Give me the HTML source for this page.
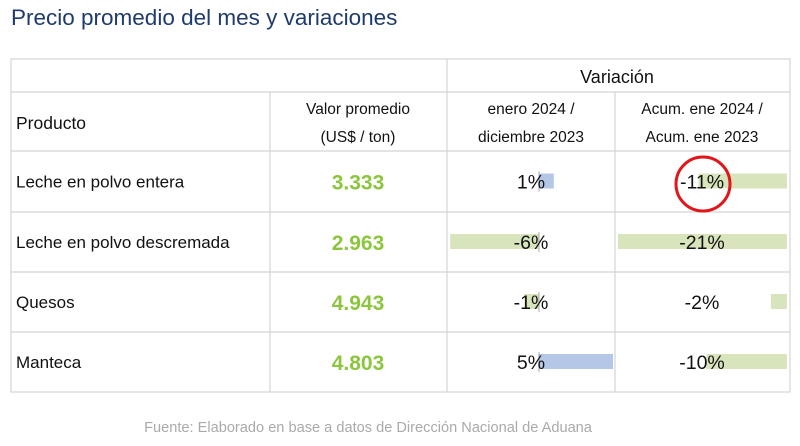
<!DOCTYPE html>
<html><head><meta charset="utf-8"><style>
body{margin:0;width:800px;height:446px;background:#fff;font-family:"Liberation Sans",sans-serif;position:relative;overflow:hidden}
.a{position:absolute}
</style></head><body>
<div class="a" style="left:11px;top:5px;font-size:22.5px;color:#1f3b6e">Precio promedio del mes y variaciones</div>
<svg class="a" style="left:0;top:0" width="800" height="446">
<g id="grid" stroke="#d4d4d4" stroke-width="1.2" fill="none"></g>
<g id="bars"></g>
<g id="txt" font-family="Liberation Sans, sans-serif"></g>
</svg>
<div class="a" style="left:0;width:736px;top:420px;text-align:center;font-size:14.6px;color:#aaa">Fuente: Elaborado en base a datos de Dirección Nacional de Aduana</div>
<script>
const products=["Leche en polvo entera","Leche en polvo descremada","Quesos","Manteca"];
const prices=["3.333","2.963","4.943","4.803"];
const varMonth=[1,-6,-1,5];
const varAcum=[-11,-21,-2,-10];
const NS="http://www.w3.org/2000/svg";
const cols=[11,270,447,615,790];
const rows=[59,92,151,212,272,332,392];
function mk(t,a,p){const e=document.createElementNS(NS,t);for(const k in a)e.setAttribute(k,a[k]);p.appendChild(e);return e;}
const g=document.getElementById('grid'),b=document.getElementById('bars'),tx=document.getElementById('txt');
mk('rect',{x:11,y:59,width:779,height:333},g);
rows.slice(1,-1).forEach(y=>mk('line',{x1:11,x2:790,y1:y,y2:y},g));
cols.slice(1,-1).forEach((x,i)=>mk('line',{x1:x,x2:x,y1:i==0?92:(i==1?59:92),y2:392},g));
function t(x,y,s,o){const e=mk('text',Object.assign({x:x,y:y,'font-size':17,fill:'#111'},o||{}),tx);e.textContent=s;return e;}
let e;
e=t(617,83,"Variación",{'text-anchor':'middle','font-size':18});
t(16,129,"Producto",{'font-size':17.5});
t(358,114,"Valor promedio",{'text-anchor':'middle','font-size':15.5});
t(358,142,"(US$ / ton)",{'text-anchor':'middle','font-size':15.5});
t(531,114,"enero 2024 /",{'text-anchor':'middle','font-size':15.5});
t(531,142,"diciembre 2023",{'text-anchor':'middle','font-size':15.5});
t(702,114,"Acum. ene 2024 /",{'text-anchor':'middle','font-size':15.5});
t(702,142,"Acum. ene 2023",{'text-anchor':'middle','font-size':15.5});
const ax1=539,sc1=14.8,ax2=787,sc2=8.05;
products.forEach((p,i)=>{
 const cy=(rows[i+2]+rows[i+3])/2;
 const v1=varMonth[i],w1=Math.abs(v1)*sc1;
 e=mk('rect',{x:v1>=0?ax1:ax1-w1,y:cy-8,width:w1,height:15,fill:v1>=0?'#b4c7e7':'#d8e4bc'},b);
 
 mk('line',{x1:ax1,x2:ax1,y1:cy-10,y2:cy+10,stroke:'#888','stroke-width':0.7},b);
 const v2=varAcum[i],w2=Math.abs(v2)*sc2;
 e=mk('rect',{x:ax2-w2,y:cy-8,width:w2,height:15,fill:'#d8e4bc'},b);
 
 e=t(16,cy+6,p);
 e=t(358,cy+8,prices[i],{'text-anchor':'middle','font-size':21,'font-weight':'bold',fill:'#8cc63f'});
 
 e=t(531,cy+7,v1+"%",{'text-anchor':'middle','font-size':19.5});
 e=t(702,cy+7,v2+"%",{'text-anchor':'middle','font-size':19.5});
});
e=mk('circle',{cx:703,cy:184,r:27,fill:'none',stroke:'#e0161b','stroke-width':3},tx);

</script>
</body></html>
